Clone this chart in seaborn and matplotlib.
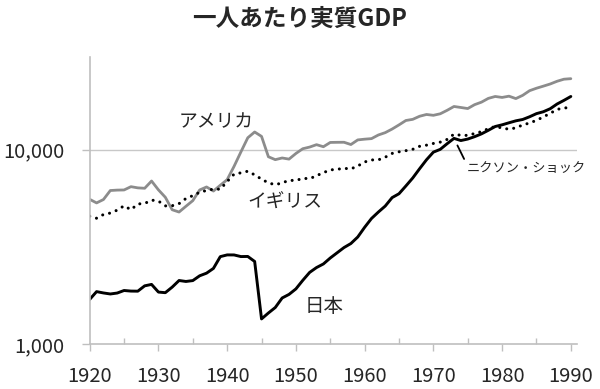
import numpy as np
import pandas as pd
import matplotlib
matplotlib.use("Agg")
import matplotlib.pyplot as plt
from matplotlib.ticker import FixedLocator, FuncFormatter, NullLocator
import seaborn as sns

# data: real GDP per capita, 1920-1990
years = list(range(1920, 1991))

usa = [5552, 5323, 5540, 6164, 6195, 6205, 6452, 6361, 6331, 6899,
       6213, 5691, 4908, 4777, 5114, 5467, 6204, 6430, 6126, 6561,
       7010, 8206, 9741, 11518, 12333, 11709, 9197, 8886, 9065, 8944,
       9561, 10116, 10316, 10613, 10359, 10897, 10914, 10920, 10631, 11230,
       11328, 11402, 11905, 12242, 12773, 13419, 14134, 14330, 14863, 15179,
       15030, 15304, 15944, 16689, 16491, 16284, 17052, 17567, 18373, 18789,
       18577, 18856, 18325, 19048, 20123, 20717, 21236, 21788, 22499, 23059,
       23201]

uk = [4548, 4439, 4637, 4720, 4884, 5144, 4910, 5255, 5287, 5503,
      5441, 5138, 5148, 5277, 5608, 5799, 6035, 6169, 6266, 6262,
      6856, 7482, 7602, 7748, 7420, 7056, 6746, 6604, 6746, 6956,
      6939, 7123, 7091, 7346, 7619, 7868, 7929, 8017, 7966, 8240,
      8645, 8857, 8865, 9149, 9568, 9752, 9885, 10049, 10410, 10552,
      10767, 10941, 11294, 12025, 11859, 11847, 12115, 12384, 12828, 13167,
      12931, 12747, 12955, 13404, 13720, 14165, 14742, 15393, 16110, 16414,
      16430]

japan = [1696, 1860, 1831, 1809, 1829, 1885, 1872, 1870, 1992, 2026,
         1850, 1837, 1962, 2122, 2098, 2120, 2244, 2315, 2449, 2816,
         2874, 2873, 2818, 2822, 2659, 1346, 1444, 1541, 1725, 1800,
         1921, 2126, 2336, 2474, 2582, 2771, 2948, 3136, 3289, 3554,
         3986, 4426, 4777, 5129, 5668, 5934, 6506, 7152, 7983, 8874,
         9714, 10040, 10734, 11434, 11145, 11344, 11669, 12064, 12585, 13163,
         13428, 13754, 14078, 14307, 14773, 15331, 15679, 16251, 17185, 17943,
         18789]

ytick_vals = [1000, 10000]
shock_year = 1973

df = pd.DataFrame({"year": years, "usa": usa, "uk": uk, "japan": japan})

sns.set_style("white")
plt.rcParams["font.family"] = ["Noto Sans CJK JP", "DejaVu Sans"]

fig = plt.figure(figsize=(6, 3.89), dpi=100)
ax = fig.add_axes([0.1495, 0.1157, 0.8122, 0.7378])

AXIS_GRAY = "#bfbfbf"

sns.lineplot(data=df, x="year", y="usa", ax=ax, color="#8c8c8c", linewidth=2.0)
dotted = sns.lineplot(data=df, x="year", y="uk", ax=ax, color="black", linewidth=2.2)
dotted.lines[-1].set_dashes([0.01, 2.3])
dotted.lines[-1].set_dash_capstyle("round")
sns.lineplot(data=df, x="year", y="japan", ax=ax, color="black", linewidth=2.1)

ax.set_yscale("log")
ax.set_ylim(1000, 30000)
ax.set_xlim(1920, 1990.9)
ax.yaxis.set_major_locator(FixedLocator(ytick_vals))
ax.yaxis.set_minor_locator(NullLocator())
ax.yaxis.set_major_formatter(FuncFormatter(lambda v, p: f"{int(v):,}"))
ax.set_xticks(range(1920, 1991, 10))
ax.set_xticks(range(1925, 1990, 10), minor=True)
ax.set_xlabel("")
ax.set_ylabel("")

ax.axhline(10000, color="#c8c8c8", linewidth=1.0, zorder=0)

for side in ["top", "right"]:
    ax.spines[side].set_visible(False)
for side in ["left", "bottom"]:
    ax.spines[side].set_color(AXIS_GRAY)
    ax.spines[side].set_linewidth(1.2)

ax.tick_params(axis="x", which="major", direction="out", length=5, width=1,
               color=AXIS_GRAY, pad=11, labelsize=14.5, bottom=True)
ax.tick_params(axis="x", which="minor", direction="in", length=4.5, width=1,
               color=AXIS_GRAY, bottom=True)
ax.tick_params(axis="y", which="major", direction="out", length=6, width=1,
               color=AXIS_GRAY, pad=12, labelsize=14.5, left=True)

# series labels
ax.text(1938.4, 14000, "アメリカ", fontsize=13.5, ha="center", va="center")
ax.text(1948.4, 5350, "イギリス", fontsize=13.5, ha="center", va="center")
ax.text(1954.1, 1552, "日本", fontsize=14, ha="center", va="center")

# Nixon shock note
shock_val = japan[years.index(shock_year)]
ax.annotate("ニクソン・ショック", xy=(shock_year + 0.5, shock_val * 0.92),
            xytext=(1974.8, 7980), fontsize=9.5, ha="left", va="center",
            annotation_clip=False,
            arrowprops=dict(arrowstyle="-", color="black", linewidth=1.3,
                            shrinkA=0, shrinkB=0, relpos=(0, 0.9)))

fig.text(0.5, 0.951, "一人あたり実質GDP", fontsize=17, fontweight="bold",
         ha="center", va="center")

fig.savefig("out.png", dpi=100)
